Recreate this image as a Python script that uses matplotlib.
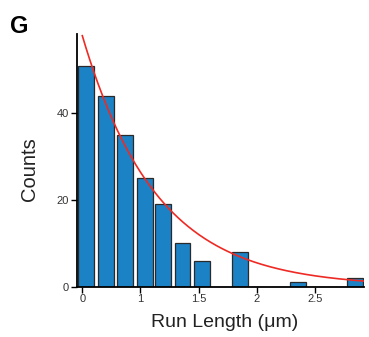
import numpy as np
import matplotlib
matplotlib.use("Agg")
import matplotlib.pyplot as plt

plt.rcParams['font.family'] = ['Liberation Sans', 'DejaVu Sans']

# Data
bin_centers = [0.534, 0.705, 0.871, 1.037, 1.195, 1.361, 1.529, 1.693,
               1.857, 2.02, 2.187, 2.35, 2.518, 2.681, 2.842]
counts = [51, 44, 35, 25, 19, 10, 6, 0, 8, 0, 0, 1, 0, 0, 2]
tick_positions = [0.5, 1.0, 1.5, 2.0, 2.5]
tick_labels = ['0', '1', '1.5', '2', '2.5']
y_ticks = [0, 20, 40]
fit_x_start = 0.5
fit_amplitude = 57.9      # counts at fit_x_start
fit_decay_length = 0.637  # µm

fig = plt.figure(figsize=(3.69, 3.37), dpi=100)
ax = fig.add_axes([0.2079, 0.1493, 0.9864 - 0.2079, 0.898 - 0.1493])

ax.bar(bin_centers, counts, width=0.137, color='#1c82c6',
       edgecolor='#2a2a2a', linewidth=0.9, zorder=2)

xs = np.linspace(fit_x_start, 2.92, 300)
ax.plot(xs, fit_amplitude * np.exp(-(xs - fit_x_start) / fit_decay_length),
        color='#ee2a24', lw=1.2, zorder=3)

ax.set_xlim(0.452, 2.921)
ax.set_ylim(0, 58.2)
ax.set_xticks(tick_positions)
ax.set_xticklabels(tick_labels)
ax.set_yticks(y_ticks)

for s in ['top', 'right']:
    ax.spines[s].set_visible(False)
for s in ['left', 'bottom']:
    ax.spines[s].set_linewidth(1.3)
    ax.spines[s].set_color('black')

ax.tick_params(axis='both', labelsize=8, colors='#333333', length=4,
               width=1, direction='out', pad=1.5)
ax.tick_params(axis='both', color='black')

ax.set_xlabel('Run Length (\u03bcm)', fontsize=14, color='#222222', va='center')
ax.set_ylabel('Counts', fontsize=14.5, color='#222222', va='center')
ax.xaxis.set_label_coords(0.516, -0.14)
ax.yaxis.set_label_coords(-0.166, 0.466)

fig.text(10 / 369, 1 - 33 / 337, 'G', fontsize=17, fontweight='bold',
         color='black', ha='left', va='baseline')

fig.savefig('out.png', dpi=100)
